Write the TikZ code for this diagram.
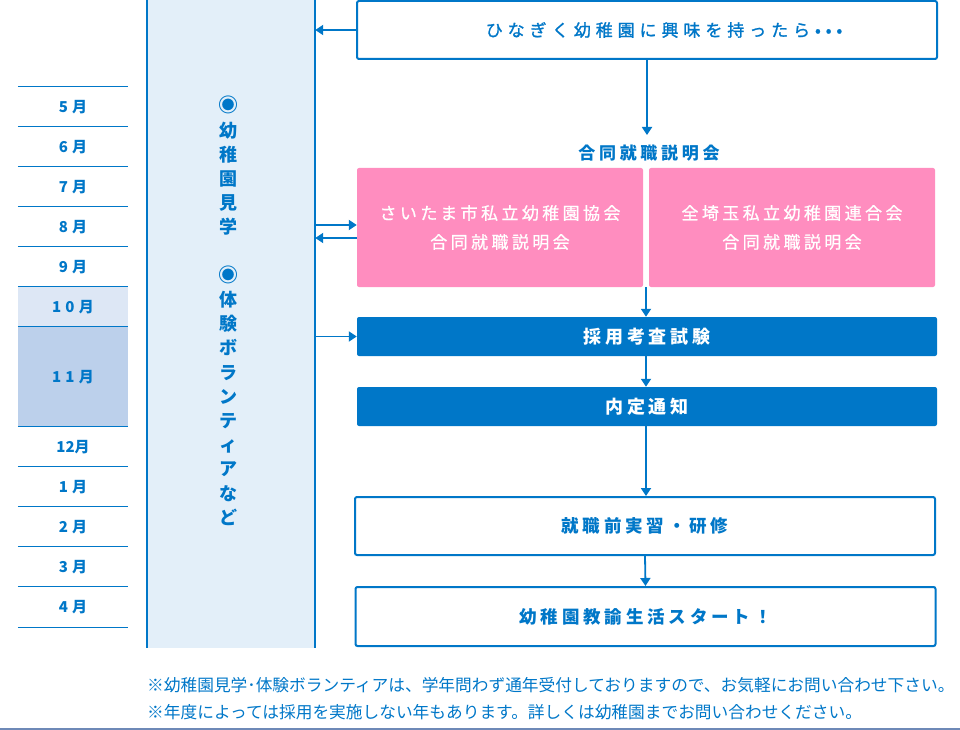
\documentclass[tikz,border=0pt]{standalone}
\usepackage{fontspec}
\setmainfont{Noto Sans CJK JP}
\newfontfamily\jpmed[LetterSpace=29,FakeBold=1.2]{Noto Sans CJK JP}
\newfontfamily\jppink[LetterSpace=20,FakeBold=0.8]{Noto Sans CJK JP}
\newfontfamily\jpsp[LetterSpace=22]{Noto Sans CJK JP}
\newfontfamily\jpmon[LetterSpace=28]{Noto Sans CJK JP}
\usetikzlibrary{arrows.meta}
\definecolor{hblue}{HTML}{0077C8}
\definecolor{colfill}{HTML}{E3EFF9}
\definecolor{octfill}{HTML}{DDE7F5}
\definecolor{novfill}{HTML}{BCD0EB}
\definecolor{hpink}{HTML}{FF8DBF}
\definecolor{baseline}{HTML}{6E89B7}
\begin{document}
\begin{tikzpicture}[x=1pt,y=-1pt,
  arr/.style={draw=hblue,line width=1.8pt,-{Triangle[length=8pt,width=10pt]}},
  wbox/.style={draw=hblue,line width=2pt,fill=white,rounded corners=2pt,minimum width=580pt,minimum height=58pt,inner sep=0pt,text=hblue,font=\jpsp\bfseries\fontsize{17.5}{20}\selectfont},
  bbox/.style={fill=hblue,rounded corners=2pt,minimum width=580pt,minimum height=39pt,inner sep=0pt,text=white,font=\jpsp\bfseries\fontsize{18}{20}\selectfont},
  pbox/.style={fill=hpink,rounded corners=2pt,minimum width=286pt,minimum height=119pt,inner sep=0pt,text=white,align=center,font=\jppink\fontsize{17}{29}\selectfont},
  month/.style={minimum width=110pt,minimum height=40pt,inner sep=0pt,text=hblue,font=\jpmon\bfseries\fontsize{15}{17}\selectfont},
  mline/.style={draw=hblue,line width=1pt},
  note/.style={anchor=west,inner sep=0pt,text=hblue,font=\fontsize{16.7}{18}\selectfont}]
\useasboundingbox (0,0) rectangle (960,730);

% column
\node[fill=colfill,minimum width=168pt,minimum height=648pt,inner sep=0pt] (col) at (231,324) {};
\draw[draw=hblue,line width=2pt] (col.north west) -- (col.south west);
\draw[draw=hblue,line width=2pt] (col.north east) -- (col.south east);
\node[align=center,text=hblue,font=\bfseries\fontsize{18}{24.2}\selectfont,inner sep=0pt] (vt) at (228,311)
 {{\fontsize{20}{24.2}\selectfont ◉}\\幼\\稚\\園\\見\\学\\[24.2pt]{\fontsize{20}{24.2}\selectfont ◉}\\体\\験\\ボ\\ラ\\ン\\テ\\ィ\\ア\\な\\ど};

% months
\node[month] (m5) at (73,107) {5月};
\node[month] (m6) at (73,147) {6月};
\node[month] (m7) at (73,187) {7月};
\node[month] (m8) at (73,227) {8月};
\node[month] (m9) at (73,267) {9月};
\node[month,fill=octfill] (m10) at (73,307) {10月};
\node[month,fill=novfill,minimum height=100pt] (m11) at (73,377) {11月};
\node[month,font=\bfseries\fontsize{15}{17}\selectfont] (m12) at (73,447) {12月};
\node[month] (m1) at (73,487) {1月};
\node[month] (m2) at (73,527) {2月};
\node[month] (m3) at (73,567) {3月};
\node[month] (m4) at (73,607) {4月};
\foreach \m in {m5,m6,m7,m8,m9,m10,m11,m12,m1,m2,m3,m4}
  \draw[mline] (\m.north west) -- (\m.north east);
\draw[mline] (m4.south west) -- (m4.south east);

% flow
\node[wbox,font=\jpmed\fontsize{17}{19}\selectfont] (top) at (647,30) {\hspace*{34pt}ひなぎく幼稚園に興味を持ったら•••};
\node[text=hblue,font=\jpsp\bfseries\fontsize{17}{19}\selectfont,inner sep=0pt] (lab) at (649,153) {合同就職説明会};
\node[pbox] (pinkL) at (500,227.5) {さいたま市私立幼稚園協会\\合同就職説明会};
\node[pbox] (pinkR) at (792,227.5) {全埼玉私立幼稚園連合会\\合同就職説明会};
\node[bbox] (exam) at (647,336.5) {採用考査試験};
\node[bbox] (notice) at (647,406.5) {内定通知};
\node[wbox] (pre) at (645,526) {就職前実習・研修};
\node[wbox,minimum height=59pt] (start) at (645.5,616.5) {幼稚園教諭生活スタート！};

\coordinate (labtop) at (647,135);
\coordinate (pa) at ([yshift=2.5pt]pinkL.west);
\coordinate (pb) at ([yshift=-10.5pt]pinkL.west);
\coordinate (gap) at (646,287);

\draw[arr] (top.west) -- (top.west -| col.east);
\draw[arr] (top.south) -- (labtop);
\draw[arr] (pa -| col.east) -- (pa);
\draw[arr] (pb) -- (pb -| col.east);
\draw[arr] (exam.west -| col.east) -- (exam.west);
\draw[arr] (gap) -- (gap |- exam.north);
\draw[arr] (gap |- exam.south) -- (gap |- notice.north);
\draw[arr] (gap |- notice.south) -- (gap |- pre.north);
\draw[arr] (pre.south) -- (start.north);

% notes
\node[note] (n1) at (147,685) {※幼稚園見学･体験ボランティアは、学年問わず通年受付しておりますので、お気軽にお問い合わせ下さい。};
\node[note] (n2) at (147,712) {※年度によっては採用を実施しない年もあります。詳しくは幼稚園までお問い合わせください。};
\draw[draw=baseline,line width=2pt] (0,729) -- (960,729);
\end{tikzpicture}
\end{document}
